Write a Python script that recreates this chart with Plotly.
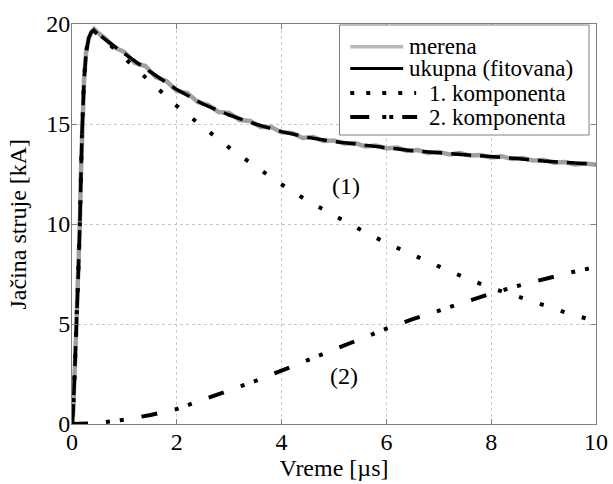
import plotly.graph_objects as go

# ---- data ----
t_fit = [0, 0.02, 0.05, 0.09, 0.12, 0.15, 0.17, 0.19, 0.23, 0.27, 0.32, 0.37, 0.42, 0.5,
         0.75, 1, 1.25, 1.5, 1.75, 2, 2.5, 3, 3.5, 4, 4.5, 5, 5.5, 6, 6.5, 7, 7.5, 8, 8.5, 9, 9.5, 10]
total = [0, 0.5, 2.5, 5, 7.5, 10, 12.5, 14.5, 17.2, 18.6, 19.3, 19.6, 19.7, 19.5,
         19.0, 18.5, 18.05, 17.6, 17.15, 16.72, 16.0, 15.45, 15.0, 14.62, 14.33, 14.12, 13.97, 13.8,
         13.66, 13.56, 13.47, 13.37, 13.27, 13.15, 13.05, 12.98]
comp1 = [0, 0.5, 2.5, 5, 7.5, 10, 12.5, 14.5, 17.2, 18.6, 19.3, 19.6, 19.65, 19.45,
         18.9, 18.3, 17.65, 17.05, 16.45, 15.9, 14.85, 13.82, 12.88, 11.98, 11.15, 10.42, 9.72, 9.05,
         8.45, 7.88, 7.32, 6.8, 6.38, 5.92, 5.5, 5.15]

t_c2 = [0, 0.25, 0.5, 1, 1.5, 2, 2.5, 3, 3.5, 4, 4.5, 5, 5.5, 6, 6.5, 7, 7.5, 8, 8.5, 9, 9.5, 10]
comp2 = [0, 0.01, 0.05, 0.22, 0.45, 0.75, 1.2, 1.68, 2.15, 2.67, 3.2, 3.72, 4.25, 4.77, 5.24,
         5.68, 6.12, 6.52, 6.9, 7.25, 7.57, 7.85]

t_meas = [0, 0.02, 0.05, 0.09, 0.12, 0.15, 0.17, 0.19, 0.23, 0.27, 0.32, 0.37, 0.42, 0.5,
          0.6, 0.8, 1.0, 1.2, 1.4, 1.6, 1.8, 2.0, 2.2, 2.4, 2.6, 2.8, 3.0, 3.2, 3.4, 3.6, 3.8,
          4.0, 4.2, 4.4, 4.6, 4.8, 5.0, 5.2, 5.4, 5.6, 5.8, 6.0, 6.2, 6.4, 6.6, 6.8, 7.0,
          7.2, 7.4, 7.6, 7.8, 8.0, 8.2, 8.4, 8.6, 8.8, 9.0, 9.2, 9.4, 9.6, 9.8, 10.0]
measured = [0, 0.5, 2.5, 5, 7.5, 10, 12.5, 14.5, 17.2, 18.6, 19.3, 19.6, 19.75, 19.55,
            19.35, 18.85, 18.6, 18.05, 17.9, 17.35, 17.15, 16.65, 16.55, 16.1, 15.95, 15.6,
            15.55, 15.2, 15.15, 14.85, 14.85, 14.58, 14.55, 14.3, 14.35, 14.15, 14.18, 14.02,
            14.05, 13.88, 13.92, 13.78, 13.82, 13.65, 13.7, 13.55, 13.6, 13.48, 13.55, 13.42,
            13.45, 13.33, 13.38, 13.25, 13.3, 13.17, 13.2, 13.06, 13.1, 12.98, 13.02, 12.96]

labels = ["merena", "ukupna (fitovana)", "1. komponenta", "2. komponenta"]
x_ticks = [0, 2, 4, 6, 8, 10]
y_ticks = [0, 5, 10, 15, 20]

FONT = "Liberation Serif"
GRAY = "#a0a0a0"
DASH1 = "4px,18px"
DASH2 = "16px,18px,4px,10px,4px,18px"

fig = go.Figure()
fig.add_trace(go.Scatter(x=t_meas, y=measured, mode="lines", name=labels[0], showlegend=False,
                         line=dict(color=GRAY, width=4.5)))
fig.add_trace(go.Scatter(x=t_fit, y=total, mode="lines", name=labels[1], showlegend=False,
                         line=dict(color="black", width=3.5, dash="20px,9px")))
fig.add_trace(go.Scatter(x=t_fit, y=comp1, mode="lines", name=labels[2], showlegend=False,
                         line=dict(color="black", width=4, dash=DASH1)))
fig.add_trace(go.Scatter(x=t_c2, y=comp2, mode="lines", name=labels[3], showlegend=False,
                         line=dict(color="black", width=4, dash=DASH2)))

fig.add_annotation(x=5.22, y=11.9, text="(1)", showarrow=False,
                   font=dict(family=FONT, size=24, color="black"))
fig.add_annotation(x=5.2, y=2.4, text="(2)", showarrow=False,
                   font=dict(family=FONT, size=24, color="black"))

# ---- legend box (MATLAB style, drawn in paper coordinates) ----
fig.add_shape(type="rect", xref="paper", yref="paper", x0=0.5105, x1=0.9867, y0=0.7225, y1=0.9975,
              line=dict(color="#808080", width=1), fillcolor="white", layer="above")
leg_y = [0.9433, 0.8888, 0.8275, 0.7675]
leg_style = [dict(color="#b8b8b8", width=3.5, dash="solid"),
             dict(color="black", width=3, dash="solid"),
             dict(color="black", width=4, dash="4px,12px"),
             dict(color="black", width=4, dash="19px,13px,4px,3px,4px,9px,16px,100px")]
leg_x1 = [0.6320, 0.6320, 0.6568, 0.6587]
leg_tx = [0.6396, 0.6396, 0.6777, 0.6777]
for i in range(4):
    fig.add_shape(type="line", xref="paper", yref="paper", x0=0.5310, x1=leg_x1[i],
                  y0=leg_y[i], y1=leg_y[i], line=leg_style[i], layer="above")
    fig.add_annotation(xref="paper", yref="paper", x=leg_tx[i], y=leg_y[i], text=labels[i],
                       xanchor="left", yanchor="middle", showarrow=False,
                       font=dict(family=FONT, size=23, color="black"))

# y-axis title as rotated annotation for exact placement
fig.add_annotation(xref="paper", yref="paper", x=-0.104, y=0.5, text="Ja\u010dina struje [kA]",
                   textangle=-90, showarrow=False, xanchor="center", yanchor="middle",
                   font=dict(family=FONT, size=24, color="black"))

axis_common = dict(showgrid=True, gridcolor="#c8c8c8", griddash="dot", gridwidth=1,
                   showline=True, linecolor="#808080", linewidth=1, mirror="ticks",
                   ticks="inside", ticklen=5, tickcolor="#808080", zeroline=False,
                   tickfont=dict(family=FONT, size=24, color="black"))

fig.update_xaxes(range=[0, 10], tickvals=x_ticks, ticktext=[str(v) for v in x_ticks],
                 title=dict(text="Vreme [\u00b5s]", font=dict(family=FONT, size=24, color="black"),
                            standoff=0),
                 ticklabelstandoff=-4,
                 **axis_common)
fig.update_yaxes(range=[0, 20], tickvals=y_ticks, ticktext=[str(v) for v in y_ticks],
                 ticklabelstandoff=-4,
                 **axis_common)

fig.update_layout(
    width=613, height=484,
    margin=dict(l=71.5, r=17, t=24, b=60, autoexpand=False),
    plot_bgcolor="white", paper_bgcolor="white",
    font=dict(family=FONT, size=24, color="black"),
    showlegend=False,
)

fig.write_html("out.html", config={"displayModeBar": False},
               post_script="document.body.style.margin='0';document.body.style.overflow='hidden';")
